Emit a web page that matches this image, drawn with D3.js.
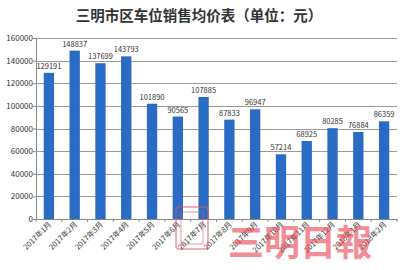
<!DOCTYPE html>
<html>
<head>
<meta charset="utf-8">
<script src="https://cdn.jsdelivr.net/npm/d3@7"></script>
<style>
  body { margin: 0; background: #fff; }
  svg { display: block; }
</style>
</head>
<body>
<div id="chart"></div>
<script>
const TITLE = '三明市区车位销售均价表（单位：元）';
const months = ['2017年1月', '2017年2月', '2017年3月', '2017年4月', '2017年5月', '2017年6月',
  '2017年7月', '2017年8月', '2017年9月', '2017年10月', '2017年11月', '2017年12月',
  '2018年1月', '2018年2月'];
const prices = [129191, 148837, 137699, 143793, 101890, 90565, 107885, 87833, 96947,
  57214, 68925, 80285, 76884, 86359];
const yTicks = [0, 20000, 40000, 60000, 80000, 100000, 120000, 140000, 160000];

const BAR_COLOR = '#2a6bc3';
const FONT = '"Noto Sans CJK SC", "Noto Sans", sans-serif';

const width = 403, height = 270;
const margin = { top: 38, right: 6, bottom: 51, left: 36 };

let svg = d3.select('#chart').append('svg')
  .attr('width', width)
  .attr('height', height)
  .style('font-family', FONT);

let x = d3.scaleBand()
  .domain(months)
  .range([margin.left, width - margin.right])
  .paddingInner(0.6)
  .paddingOuter(0.3);

let y = d3.scaleLinear()
  .domain([0, 160000])
  .range([height - margin.bottom, margin.top]);

// title
svg.append('text')
  .attr('x', 199)
  .attr('y', 21)
  .attr('text-anchor', 'middle')
  .attr('font-size', 14.5)
  .attr('font-weight', 'bold')
  .attr('fill', '#333')
  .text(TITLE);

// gridlines + y axis
let yAxis = svg.append('g')
  .attr('transform', `translate(${margin.left},0)`)
  .call(d3.axisLeft(y).tickValues(yTicks).tickSize(3).tickFormat(d3.format('d')));
yAxis.select('.domain').attr('stroke', '#888');
yAxis.selectAll('.tick line').attr('stroke', '#888');
yAxis.selectAll('.tick text')
  .attr('x', -3)
  .attr('font-size', 8)
  .attr('font-family', FONT)
  .attr('fill', '#333');

svg.append('g')
  .selectAll('line')
  .data(yTicks.slice(1))
  .enter().append('line')
  .attr('x1', margin.left)
  .attr('x2', width - margin.right)
  .attr('y1', (d) => Math.round(y(d)) + 0.5)
  .attr('y2', (d) => Math.round(y(d)) + 0.5)
  .attr('stroke', '#9a9a9a')
  .attr('stroke-width', 1);

// bars
svg.append('g')
  .selectAll('rect')
  .data(prices)
  .enter().append('rect')
  .attr('x', (d, i) => x(months[i]))
  .attr('width', x.bandwidth())
  .attr('y', (d) => y(d))
  .attr('height', (d) => y(0) - y(d))
  .attr('fill', BAR_COLOR);

// value labels
svg.append('g')
  .selectAll('text')
  .data(prices)
  .enter().append('text')
  .attr('x', (d, i) => x(months[i]) + x.bandwidth() / 2)
  .attr('y', (d) => y(d) - 4)
  .attr('text-anchor', 'middle')
  .attr('font-size', 7.5)
  .attr('fill', '#333')
  .text((d) => d);

// x axis
let xAxis = svg.append('g')
  .attr('transform', `translate(0,${y(0)})`)
  .call(d3.axisBottom(x).tickSize(0).tickPadding(0));
xAxis.select('.domain').attr('stroke', '#888');
xAxis.selectAll('.tick text')
  .attr('font-size', 7.5)
  .attr('font-family', FONT)
  .attr('fill', '#333')
  .attr('text-anchor', 'end')
  .attr('dy', 0)
  .attr('transform', 'translate(3,6) rotate(-45)');

// category boundary ticks
let step = x.step();
svg.append('g')
  .selectAll('line')
  .data(d3.range(months.length + 1))
  .enter().append('line')
  .attr('x1', (d) => margin.left + d * step)
  .attr('x2', (d) => margin.left + d * step)
  .attr('y1', y(0))
  .attr('y2', y(0) + 3)
  .attr('stroke', '#888');

// newspaper watermark
let mark = svg.append('g').attr('opacity', 0.6);
mark.append('rect')
  .attr('x', 176)
  .attr('y', 207)
  .attr('width', 32)
  .attr('height', 42)
  .attr('rx', 3)
  .attr('fill', 'none')
  .attr('stroke', '#e5505e')
  .attr('stroke-width', 1.5);
mark.append('rect')
  .attr('x', 181)
  .attr('y', 212)
  .attr('width', 22)
  .attr('height', 32)
  .attr('fill', 'none')
  .attr('stroke', '#e5505e')
  .attr('stroke-width', 1);
mark.append('text')
  .attr('x', 228)
  .attr('y', 256)
  .attr('font-size', 36)
  .attr('font-weight', 'bold')
  .attr('fill', '#e8434f')
  .text('三明日報');
</script>
</body>
</html>
